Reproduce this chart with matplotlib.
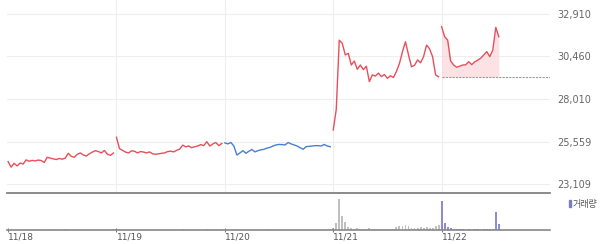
import matplotlib.pyplot as plt
import numpy as np

plt.rcParams['font.family'] = ['DejaVu Sans', 'Noto Sans CJK KR']

dates = ['11/18', '11/19', '11/20', '11/21', '11/22']
price_ticks = [23109, 25559, 28010, 30460, 32910]
prev_close = 29290
pts_per_day = 36

# intraday prices, one list per day
day1 = [24400, 24080, 24300, 24150, 24320, 24260, 24500, 24420, 24470, 24440, 24490, 24460,
        24350, 24650, 24600, 24560, 24520, 24580, 24540, 24600, 24880, 24700, 24650, 24820,
        24900, 24780, 24720, 24850, 24950, 25030, 24980, 24900, 25040, 24820, 24760, 24900]
day2 = [25800, 25150, 25050, 24950, 24900, 25020, 25000, 24900, 24980, 24950, 24900, 24960,
        24850, 24820, 24850, 24880, 24900, 24980, 25000, 24960, 25050, 25120, 25350, 25250,
        25300, 25200, 25260, 25300, 25380, 25320, 25550, 25300, 25420, 25500, 25320, 25450]
day3 = [25480, 25420, 25500, 25300, 24780, 24900, 25030, 24880, 25000, 25100, 24960, 25030,
        25080, 25110, 25180, 25220, 25300, 25360, 25390, 25380, 25360, 25500, 25420, 25360,
        25300, 25200, 25110, 25260, 25280, 25300, 25320, 25320, 25300, 25390, 25300, 25260]
day4 = [26220, 27400, 31400, 31220, 30550, 30640, 29970, 30200, 29720, 29970, 29700, 29900,
        29010, 29400, 29330, 29500, 29300, 29420, 29200, 29350, 29250, 29600, 30060, 30740,
        31310, 30550, 29870, 29950, 30260, 30100, 30450, 31120, 30900, 30450, 29400, 29290]
day5 = [32180, 31600, 31410, 30200, 29970, 29840, 29900, 29970, 29980, 30160, 29990, 30150,
        30250, 30360, 30550, 30740, 30450, 30830, 32140, 31600]

# volume, same points
vol1 = [6, 4, 5, 3, 4, 5, 3, 4, 6, 3, 4, 5, 3, 4, 5, 6, 4, 3, 5, 8, 6, 4, 3, 4,
        5, 3, 4, 5, 3, 4, 5, 4, 3, 5, 4, 6]
vol2 = [12, 6, 4, 3, 5, 4, 3, 4, 5, 3, 4, 3, 5, 4, 3, 4, 3, 5, 4, 3, 4, 5, 6, 4,
        3, 5, 4, 3, 4, 5, 6, 4, 3, 8, 5, 6]
vol3 = [10, 6, 5, 8, 6, 4, 3, 5, 4, 3, 4, 5, 3, 4, 6, 8, 5, 4, 3, 5, 4, 3, 4, 5,
        3, 4, 5, 4, 3, 4, 5, 3, 4, 5, 4, 6]
vol4 = [25, 70, 307, 140, 80, 30, 20, 15, 20, 10, 15, 10, 20, 10, 15, 10, 10, 15, 10, 10,
        15, 35, 45, 40, 50, 40, 20, 25, 20, 30, 25, 30, 20, 25, 40, 50]
vol5 = [290, 70, 30, 20, 15, 15, 10, 10, 5, 10, 5, 10, 10, 5, 10, 10, 10, 15, 180, 60]

days = [day1, day2, day3, day4, day5]
vols = [vol1, vol2, vol3, vol4, vol5]
line_colors = ['#e5505a', '#e5505a', '#4a7fd0', '#e5505a', '#e5505a']
vol_colors = ['#cccccc', '#cccccc', '#cccccc', '#c0c0c0', '#8c8cd0']

fig = plt.figure(figsize=(6, 2.44), dpi=100)
ax = fig.add_axes([7/600, 1-193/244, 543/600, 193/244])
axv = fig.add_axes([7/600, 1-230/244, 543/600, 35/244])

for d, (p, v) in enumerate(zip(days, vols)):
    x = d + np.arange(len(p)) / pts_per_day
    ax.plot(x, p, color=line_colors[d], lw=1.0)
    axv.bar(x, v, width=0.018, color=vol_colors[d], align='center')
    if d == 4:
        ax.fill_between(x, p, prev_close, color='#fad0d4', alpha=0.6, lw=0)
        ax.plot([d, 5], [prev_close, prev_close], color='#999999', lw=0.8,
                ls=(0, (2, 1)))

ax.set_xlim(-0.01, 5.0)
ax.set_ylim(22590, 33717)
ax.set_yticks(price_ticks)
ax.set_yticklabels([f'{t:,}' for t in price_ticks])
ax.yaxis.tick_right()
ax.tick_params(axis='y', length=0, pad=5, labelsize=7, labelcolor='#666666')
ax.set_xticks([1, 2, 3, 4])
ax.tick_params(axis='x', length=0, labelbottom=False)
ax.grid(True, color='#eeeeee', lw=0.8)
ax.set_axisbelow(True)
for s in ['top', 'left', 'right']:
    ax.spines[s].set_visible(False)
ax.spines['bottom'].set_color('#777777')
ax.spines['bottom'].set_linewidth(1.2)

axv.set_xlim(-0.01, 5.0)
axv.set_ylim(0, 350)
axv.set_yticks([])
axv.set_xticks(range(5))
axv.set_xticklabels(dates, ha='left')
axv.tick_params(axis='x', length=3, direction='inout', color='#777777',
                labelsize=6.5, labelcolor='#555555', pad=0.5)
for s in ['top', 'left', 'right']:
    axv.spines[s].set_visible(False)
axv.spines['bottom'].set_color('#888888')
axv.spines['bottom'].set_linewidth(1.2)

fig.patches.append(plt.Rectangle((569/600, 1-207/244), 2/600, 7/244,
                                 transform=fig.transFigure, color='#7b7bc4'))
fig.text(573/600, 1-204/244, '거래량', fontsize=6.5, color='#555555', va='center',
         family=['Noto Sans CJK KR', 'DejaVu Sans'])

fig.savefig('out.png', dpi=100)
